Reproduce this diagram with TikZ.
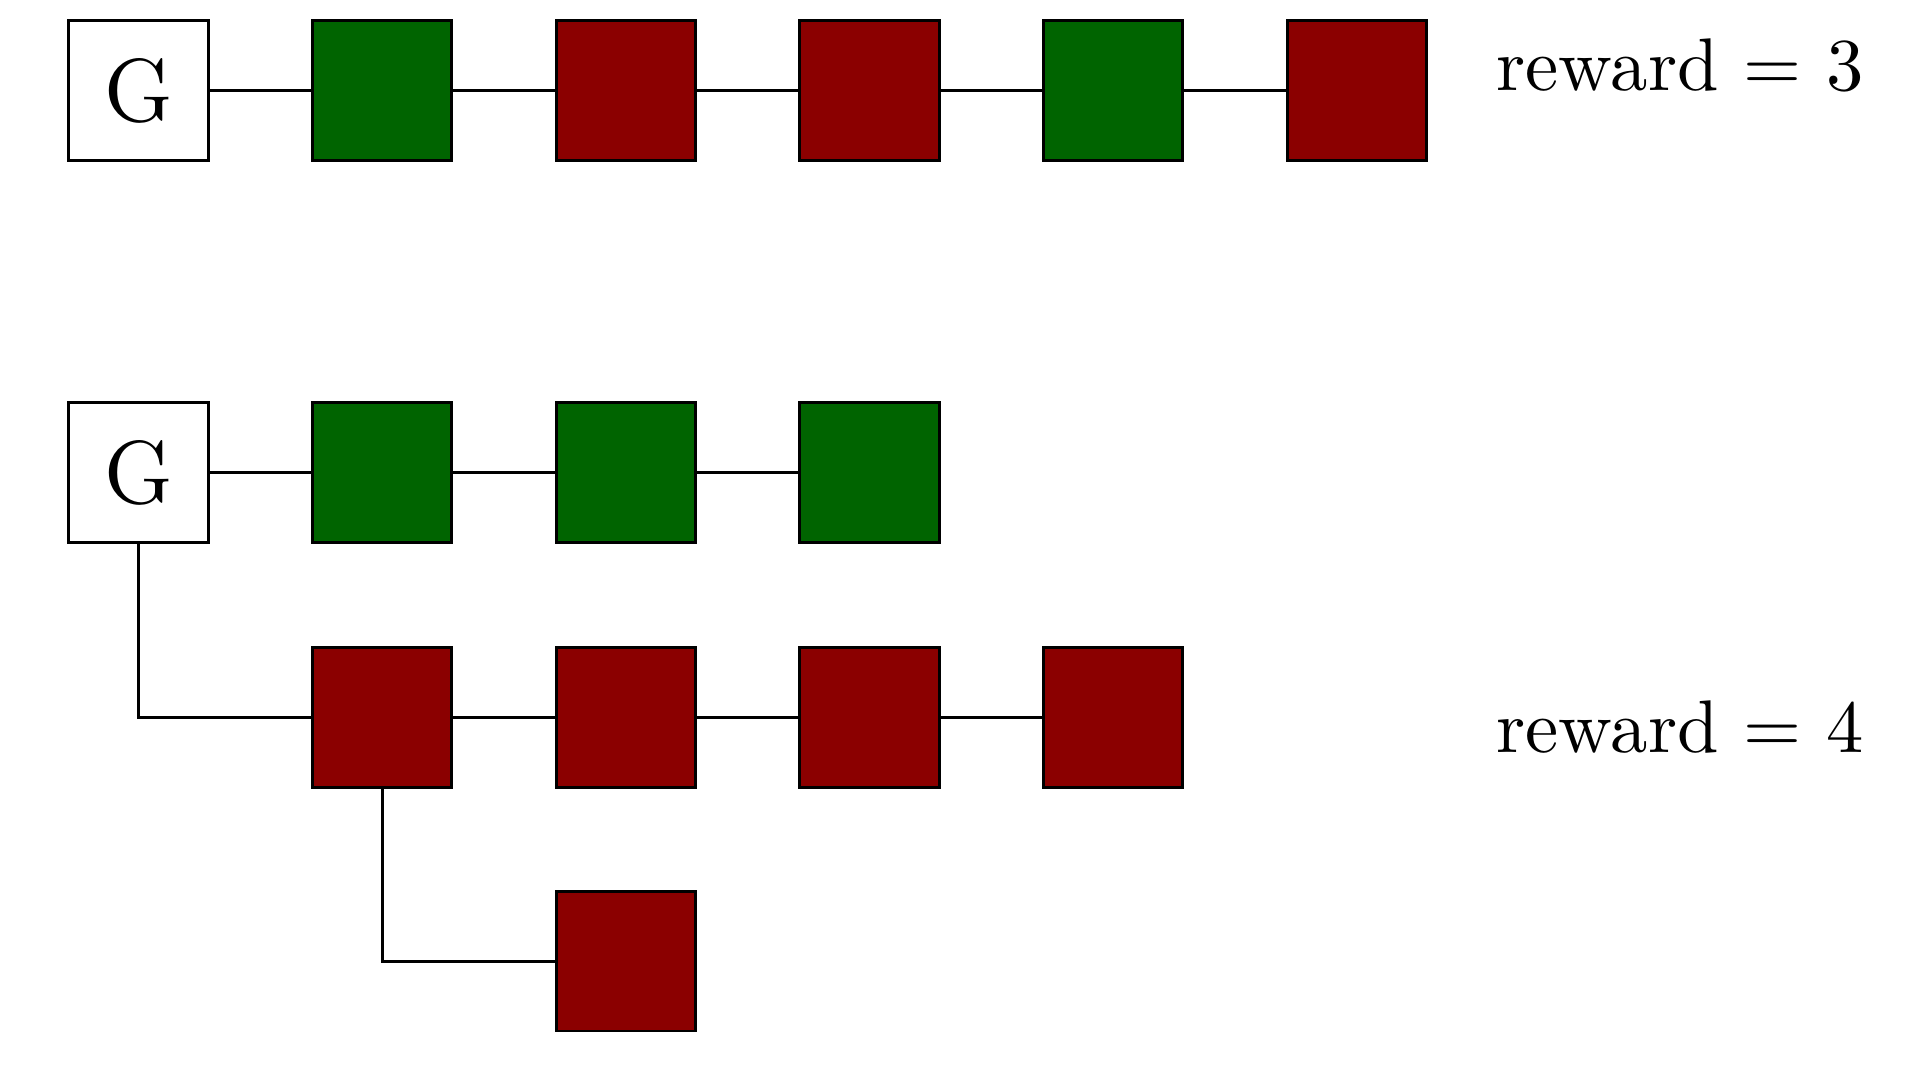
\documentclass[tikz,border=0pt]{standalone}
\usetikzlibrary{positioning}
\definecolor{boxgreen}{RGB}{0,100,0}
\definecolor{boxred}{RGB}{139,0,0}
\tikzset{
  cell/.style={draw=black, line width=0.4pt, minimum size=18.7pt, inner sep=0pt, outer sep=0pt},
  gcell/.style={cell, fill=white, font=\large},
  grn/.style={cell, fill=boxgreen},
  rd/.style={cell, fill=boxred},
  link/.style={draw=black, line width=0.4pt},
  lbl/.style={anchor=base west, inner sep=0pt, font=\normalsize}
}
\begin{document}
\begin{tikzpicture}[x=0.13405pt, y=-0.13405pt]
\useasboundingbox (0,0) rectangle (1920,1076);
% row 1
\node[gcell] (g1) at (138.4,90.6) {G};
\node[grn] (a1) at (382.1,90.6) {};
\node[rd]  (a2) at (625.8,90.6) {};
\node[rd]  (a3) at (869.5,90.6) {};
\node[grn] (a4) at (1113.2,90.6) {};
\node[rd]  (a5) at (1356.9,90.6) {};
\node[lbl] (t1) at (1495,90) {reward $=$ 3};
% row 2
\node[gcell] (g2) at (138.4,472.6) {G};
\node[grn] (b1) at (382.1,472.6) {};
\node[grn] (b2) at (625.8,472.6) {};
\node[grn] (b3) at (869.5,472.6) {};
% row 3
\node[rd] (c1) at (382.1,717.4) {};
\node[rd] (c2) at (625.8,717.4) {};
\node[rd] (c3) at (869.5,717.4) {};
\node[rd] (c4) at (1113.2,717.4) {};
\node[lbl] (t2) at (1495,752) {reward $=$ 4};
% row 4
\node[rd] (d1) at (625.8,961.2) {};
% connectors
\draw[link] (g1) -- (a1) (a1) -- (a2) (a2) -- (a3) (a3) -- (a4) (a4) -- (a5);
\draw[link] (g2) -- (b1) (b1) -- (b2) (b2) -- (b3);
\draw[link] (c1) -- (c2) (c2) -- (c3) (c3) -- (c4);
\draw[link] (g2.south) |- (c1.west);
\draw[link] (c1.south) |- (d1.west);
\end{tikzpicture}
\end{document}
